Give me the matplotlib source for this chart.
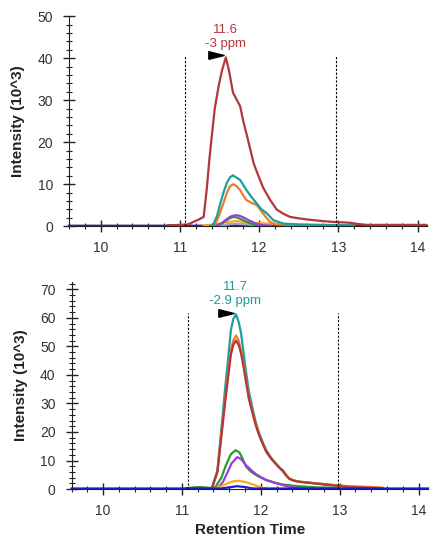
import matplotlib
matplotlib.use("Agg")
import matplotlib.pyplot as plt
from matplotlib.ticker import MultipleLocator

plt.rcParams['font.family'] = ['Liberation Sans', 'DejaVu Sans']

# colours of the traces
c_red = "#b3363b"
c_teal = "#1f9c9c"
c_orange = "#ec7d28"
c_green = "#2c9a2c"
c_purple = "#9a3de0"
c_yellow = "#ffa81a"
c_lav = "#a8a0d8"
c_blue = "#1c1cd8"

# ---- top chromatogram ----
top_red_t = [10.85, 11.0, 11.1, 11.17, 11.24, 11.30, 11.34, 11.37, 11.40, 11.44, 11.49, 11.53, 11.58, 11.62,
             11.67, 11.72, 11.76, 11.80, 11.86, 11.93, 11.99, 12.05, 12.14, 12.22, 12.30, 12.39, 12.52, 12.65,
             12.80, 12.94, 13.05, 13.15, 13.25, 13.36, 13.6, 14.12]
top_red_v = [0.2, 0.3, 0.4, 1.0, 1.6, 2.2, 9.0, 15.5, 21.0, 28.0, 33.5, 37.0, 40.2, 37.0,
             31.8, 30.0, 28.6, 25.0, 20.5, 15.0, 12.0, 9.2, 6.2, 4.0, 3.0, 2.2, 1.8, 1.5,
             1.2, 1.0, 0.9, 0.8, 0.5, 0.3, 0.3, 0.3]
top_teal_t = [11.38, 11.42, 11.47, 11.51, 11.55, 11.59, 11.63, 11.67, 11.71, 11.76, 11.80, 11.84, 11.90,
              11.97, 12.03, 12.10, 12.18, 12.31, 12.5, 12.8, 13.2]
top_teal_v = [0.1, 0.3, 2.5, 5.4, 8.0, 10.2, 11.6, 12.1, 11.6, 11.0, 9.8, 8.6, 7.0,
              5.4, 4.0, 3.0, 1.4, 0.6, 0.4, 0.3, 0.2]
top_orange_t = [11.40, 11.45, 11.50, 11.55, 11.59, 11.63, 11.67, 11.71, 11.76, 11.80, 11.84, 11.90, 11.97,
                12.01, 12.05, 12.10, 12.14, 12.2, 12.4, 12.9]
top_orange_v = [0.1, 0.6, 2.8, 5.5, 7.8, 9.4, 10.0, 9.6, 8.6, 7.3, 6.2, 5.6, 5.0,
                4.0, 3.0, 1.8, 1.0, 0.4, 0.3, 0.2]
top_purple_t = [11.45, 11.52, 11.58, 11.64, 11.70, 11.75, 11.80, 11.88, 11.96, 12.05, 12.15]
top_purple_v = [0.1, 0.6, 1.5, 2.3, 2.6, 2.5, 2.1, 1.3, 0.6, 0.2, 0.1]
top_green_t = [11.45, 11.52, 11.58, 11.63, 11.68, 11.73, 11.80, 11.88, 11.96, 12.02]
top_green_v = [0.1, 0.5, 1.3, 1.9, 2.2, 2.0, 1.4, 0.7, 0.2, 0.05]
top_yellow_t = [11.30, 11.45, 11.55, 11.65, 11.72, 11.80, 11.90, 12.0, 12.2, 12.4, 12.6]
top_yellow_v = [0.2, 0.4, 0.8, 1.1, 1.2, 1.0, 0.8, 0.7, 0.6, 0.4, 0.2]
top_lav_t = [11.5, 11.6, 11.7, 11.8, 11.9, 12.0]
top_lav_v = [0.1, 0.4, 0.6, 0.5, 0.3, 0.1]
top_blue_t = [9.6, 10.9, 11.0, 11.07, 11.15, 11.5, 11.7, 12.0, 14.12]
top_blue_v = [0.1, 0.1, 0.15, 0.3, 0.1, 0.1, 0.2, 0.1, 0.1]

# ---- bottom chromatogram ----
bot_t = [11.1, 11.3, 11.38, 11.45, 11.51, 11.55, 11.58, 11.62, 11.65, 11.685, 11.72, 11.75, 11.78, 11.81,
         11.85, 11.90, 11.94, 11.98, 12.03, 12.07, 12.13, 12.19, 12.24, 12.28, 12.32, 12.36, 12.42, 12.49,
         12.60, 12.70, 12.80, 12.91, 13.02, 13.12, 13.33, 13.54]
bot_teal_v = [0.3, 0.3, 0.3, 6.6, 24.0, 36.0, 44.0, 55.6, 59.5, 61.2, 58.5, 54.5, 48.0, 41.6,
              34.0, 27.7, 23.0, 19.5, 16.0, 13.6, 11.0, 9.0, 7.5, 6.6, 5.0, 3.7, 3.0, 2.6,
              2.3, 2.0, 1.7, 1.4, 1.1, 0.8, 0.6, 0.3]
bot_orange_v = [0.3, 0.3, 0.3, 6.2, 21.8, 32.0, 39.0, 48.5, 52.0, 53.8, 52.0, 48.5, 44.0, 38.8,
                32.0, 26.5, 22.3, 19.0, 15.7, 13.2, 10.8, 8.9, 7.4, 6.4, 4.9, 3.7, 3.0, 2.6,
                2.3, 2.0, 1.8, 1.5, 1.2, 1.0, 0.8, 0.5]
bot_red_v = [0.3, 0.3, 0.3, 6.0, 21.0, 31.0, 38.0, 47.0, 50.5, 52.0, 50.5, 47.5, 43.0, 38.0,
             31.5, 26.0, 22.0, 18.8, 15.5, 13.0, 10.7, 8.8, 7.3, 6.3, 4.8, 3.6, 2.9, 2.5,
             2.2, 1.9, 1.6, 1.3, 1.0, 0.7, 0.5, 0.3]
bot_green_t = [11.05, 11.15, 11.25, 11.35, 11.42, 11.50, 11.56, 11.62, 11.68, 11.73, 11.78, 11.81, 11.87,
               11.94, 12.0, 12.07, 12.18, 12.28, 12.40, 12.49, 12.7, 13.0]
bot_green_v = [0.3, 0.6, 0.7, 0.4, 0.5, 4.0, 8.5, 12.2, 13.6, 12.8, 10.0, 8.0, 6.2,
               4.9, 4.0, 3.1, 2.2, 1.6, 1.2, 1.0, 0.6, 0.4]
bot_purple_t = [11.45, 11.52, 11.58, 11.63, 11.70, 11.75, 11.81, 11.88, 11.94, 12.0, 12.07, 12.2, 12.3, 12.4, 12.6]
bot_purple_v = [0.2, 2.5, 6.0, 9.0, 11.2, 10.5, 8.4, 6.6, 5.2, 4.2, 3.2, 2.0, 1.2, 0.6, 0.2]
bot_yellow_t = [11.42, 11.50, 11.58, 11.65, 11.72, 11.80, 11.90, 12.0, 12.08]
bot_yellow_v = [0.2, 1.0, 2.0, 2.7, 2.9, 2.5, 1.6, 0.6, 0.2]
bot_blue_t = [9.6, 11.5, 11.6, 11.7, 11.8, 11.9, 14.12]
bot_blue_v = [0.2, 0.2, 0.6, 1.0, 0.7, 0.2, 0.2]

# integration boundaries and peak labels
top_bounds = [11.07, 12.97]
bot_bounds = [11.08, 12.975]
top_peak = (11.58, 40.2, "11.6", "-3 ppm", c_red)
bot_peak = (11.685, 61.2, "11.7", "-2.9 ppm", c_teal)

fig = plt.figure(figsize=(4.31, 5.41), dpi=100)
ax1 = fig.add_axes([0.160, 0.582, 0.831, 0.388])
ax2 = fig.add_axes([0.166, 0.096, 0.827, 0.383])

lw = 1.6
ax1.plot(top_blue_t, top_blue_v, color="#2a2aa0", lw=lw, clip_on=False)
ax1.plot(top_yellow_t, top_yellow_v, color=c_yellow, lw=lw)
ax1.plot(top_lav_t, top_lav_v, color=c_lav, lw=lw)
ax1.plot(top_green_t, top_green_v, color=c_green, lw=lw)
ax1.plot(top_purple_t, top_purple_v, color=c_purple, lw=lw)
ax1.plot(top_orange_t, top_orange_v, color=c_orange, lw=lw)
ax1.plot(top_teal_t, top_teal_v, color=c_teal, lw=lw)
ax1.plot(top_red_t, top_red_v, color=c_red, lw=lw)

ax2.plot(bot_t, bot_teal_v, color=c_teal, lw=lw)
ax2.plot(bot_t, bot_orange_v, color=c_orange, lw=lw)
ax2.plot(bot_t, bot_red_v, color=c_red, lw=lw)
ax2.plot(bot_green_t, bot_green_v, color=c_green, lw=lw)
ax2.plot(bot_purple_t, bot_purple_v, color=c_purple, lw=lw)
ax2.plot(bot_yellow_t, bot_yellow_v, color=c_yellow, lw=lw)
ax2.plot(bot_blue_t, bot_blue_v, color=c_blue, lw=lw, clip_on=False)

tri = [(-1, -0.5), (1, 0), (-1, 0.5), (-1, -0.5)]
for ax, bounds, peak, ylim in [(ax1, top_bounds, top_peak, 50),
                               (ax2, bot_bounds, bot_peak, 72.6)]:
    rt, h, lab1, lab2, col = peak
    for b in bounds:
        ax.vlines(b, 0, h + 0.4, colors="black", linestyles=(0, (2, 1.5)), lw=0.8)
    ax.plot(rt - 0.125, h + 0.6, marker=tri, markersize=11, color="black", lw=0, clip_on=False)
    ax.annotate(lab1 + "\n" + lab2, (rt - 0.01, h), xytext=(0, 5), textcoords="offset points",
                ha="center", va="bottom", color=col, fontsize=9.5, linespacing=1.3,
                annotation_clip=False)
    ax.set_xlim(9.6, 14.12)
    ax.set_ylim(0, ylim)
    ax.xaxis.set_major_locator(MultipleLocator(1))
    ax.xaxis.set_minor_locator(MultipleLocator(0.2))
    ax.yaxis.set_major_locator(MultipleLocator(10))
    ax.yaxis.set_minor_locator(MultipleLocator(2))
    ax.tick_params(which="major", direction="inout", length=9, width=1, labelsize=10,
                   labelcolor="#333333", color="#222222")
    ax.tick_params(which="minor", direction="inout", length=5, width=0.8, color="#222222")
    ax.tick_params(axis="x", which="major", pad=6)
    ax.tick_params(axis="y", which="major", pad=7)
    for s in ["top", "right"]:
        ax.spines[s].set_visible(False)
    for s in ["left", "bottom"]:
        ax.spines[s].set_color("#222222")
    ax.set_ylabel("Intensity (10^3)", fontsize=11, fontweight="bold", color="#222222", va="center")
    ax.yaxis.set_label_coords(-0.142, 0.5)

ax2.set_xlabel("Retention Time", fontsize=11, fontweight="bold", color="#222222", va="center")
ax2.xaxis.set_label_coords(0.5, -0.198)

fig.savefig("out.png", dpi=100)
